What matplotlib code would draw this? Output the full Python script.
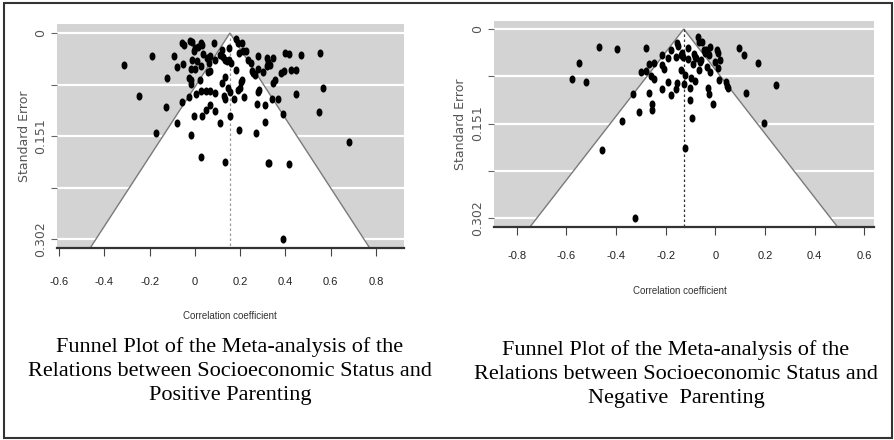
import numpy as np
import matplotlib
matplotlib.use('Agg')
import matplotlib.pyplot as plt
from matplotlib.path import Path
from matplotlib.transforms import Affine2D
from matplotlib.patches import Polygon, Rectangle

# ---- data ----
# positive parenting: correlation coefficient and standard error of each study
pos_r = [-0.313, -0.190, -0.246, -0.121, -0.127, -0.170, -0.090, -0.081, -0.055, -0.048,
         -0.053, -0.058, -0.077, -0.021, -0.011, 0.000, -0.003, 0.013, 0.029, 0.032,
         0.037, -0.011, 0.009, -0.015, 0.000, 0.025, -0.024, -0.015, -0.019, 0.022,
         -0.025, 0.006, 0.029, 0.051, 0.068, 0.088, 0.069, -0.003, 0.032, 0.048,
         0.090, -0.018, 0.025, 0.085, 0.054, 0.066, 0.063, 0.069, 0.059, 0.091,
         0.110, 0.121, 0.125, 0.134, 0.143, 0.152, 0.149, 0.160, 0.119, 0.131,
         0.128, 0.134, 0.146, 0.156, 0.171, 0.157, 0.110, 0.132, 0.180, 0.190,
         0.209, 0.197, 0.214, 0.225, 0.182, 0.206, 0.198, 0.192, 0.209, 0.215,
         0.193, 0.237, 0.246, 0.252, 0.259, 0.265, 0.281, 0.281, 0.302, 0.284,
         0.280, 0.275, 0.269, 0.317, 0.325, 0.331, 0.346, 0.320, 0.346, 0.353,
         0.343, 0.367, 0.312, 0.312, 0.322, 0.328, 0.381, 0.392, 0.400, 0.414,
         0.426, 0.446, 0.449, 0.468, 0.390, 0.418, 0.389, 0.552, 0.564, 0.549,
         0.679]
pos_se = [0.047, 0.034, 0.093, 0.066, 0.109, 0.147, 0.034, 0.050, 0.014, 0.018,
          0.046, 0.101, 0.132, 0.012, 0.013, 0.022, 0.026, 0.021, 0.014, 0.018,
          0.031, 0.039, 0.041, 0.053, 0.053, 0.049, 0.066, 0.069, 0.074, 0.069,
          0.094, 0.090, 0.085, 0.085, 0.085, 0.088, 0.105, 0.121, 0.121, 0.113,
          0.114, 0.149, 0.181, 0.015, 0.037, 0.034, 0.044, 0.056, 0.057, 0.039,
          0.032, 0.025, 0.035, 0.039, 0.041, 0.022, 0.039, 0.044, 0.073, 0.065,
          0.093, 0.097, 0.080, 0.086, 0.096, 0.122, 0.132, 0.189, 0.009, 0.014,
          0.014, 0.029, 0.026, 0.026, 0.054, 0.072, 0.080, 0.083, 0.069, 0.094,
          0.142, 0.039, 0.044, 0.056, 0.058, 0.062, 0.034, 0.053, 0.057, 0.083,
          0.087, 0.104, 0.147, 0.037, 0.042, 0.047, 0.037, 0.049, 0.073, 0.069,
          0.097, 0.096, 0.105, 0.130, 0.191, 0.190, 0.058, 0.056, 0.030, 0.031,
          0.054, 0.054, 0.090, 0.032, 0.119, 0.192, 0.302, 0.029, 0.080, 0.116,
          0.160]
pos_center = 0.155

# negative parenting
neg_r = [-0.576, -0.549, -0.522, -0.467, -0.395, -0.456, -0.376, -0.332, -0.309, -0.322,
         -0.298, -0.279, -0.279, -0.265, -0.246, -0.259, -0.246, -0.265, -0.255, -0.255,
         -0.215, -0.205, -0.215, -0.213, -0.189, -0.192, -0.180, -0.180, -0.160, -0.154,
         -0.152, -0.153, -0.157, -0.140, -0.133, -0.130, -0.137, -0.122, -0.125, -0.121,
         -0.111, -0.111, -0.102, -0.099, -0.101, -0.095, -0.091, -0.087, -0.082, -0.080,
         -0.079, -0.070, -0.066, -0.063, -0.066, -0.057, -0.052, -0.047, -0.043, -0.037,
         -0.034, -0.029, -0.021, -0.024, -0.020, -0.031, -0.024, -0.011, -0.003, 0.005,
         0.011, 0.017, 0.009, 0.014, 0.043, 0.047, 0.050, 0.094, 0.114, 0.122,
         0.172, 0.195, 0.244]
neg_se = [0.079, 0.054, 0.085, 0.029, 0.032, 0.193, 0.147, 0.104, 0.132, 0.302,
          0.069, 0.067, 0.031, 0.056, 0.054, 0.075, 0.079, 0.102, 0.120, 0.129,
          0.057, 0.064, 0.042, 0.095, 0.047, 0.085, 0.034, 0.106, 0.045, 0.022,
          0.027, 0.086, 0.095, 0.041, 0.039, 0.044, 0.065, 0.073, 0.087, 0.190,
          0.031, 0.048, 0.094, 0.078, 0.113, 0.142, 0.056, 0.040, 0.044, 0.083,
          0.047, 0.012, 0.020, 0.053, 0.065, 0.049, 0.021, 0.034, 0.038, 0.034,
          0.060, 0.038, 0.029, 0.041, 0.068, 0.094, 0.104, 0.120, 0.053, 0.034,
          0.039, 0.049, 0.063, 0.082, 0.085, 0.091, 0.094, 0.030, 0.041, 0.102,
          0.054, 0.150, 0.090]
neg_center = -0.127

se_ticks = [0, 0.0755, 0.151, 0.2265, 0.302]
se_labels = ['0', '', '0.151', '', '0.302']
pos_xticks = [-0.6, -0.4, -0.2, 0, 0.2, 0.4, 0.6, 0.8]
pos_xlabels = ['-0.6', '-0.4', '-0.2', '0', '0.2', '0.4', '0.6', '0.8']
neg_xticks = [-0.8, -0.6, -0.4, -0.2, 0, 0.2, 0.4, 0.6]
neg_xlabels = ['-0.8', '-0.6', '-0.4', '-0.2', '0', '0.2', '0.4', '0.6']

title_pos = 'Funnel Plot of the Meta-analysis of the\nRelations between Socioeconomic Status and\nPositive Parenting'
title_neg = 'Funnel Plot of the Meta-analysis of the\nRelations between Socioeconomic Status and\nNegative  Parenting'

W, H = 894, 440
narrow = 'Liberation Sans'

# small upright ellipse like the R plotting symbol in the scan
ell = Path.unit_circle().transformed(Affine2D().scale(0.68, 1.0))


def funnel(ax, r, se, center, xlim, ylim, xticks, xlabels, dotcol):
    ax.set_facecolor('#d3d3d3')
    for g in se_ticks:
        ax.axhline(g, color='white', lw=1.6, zorder=1)
    ymax = ylim[0]
    tri = Polygon([(center - 1.96 * ymax, ymax), (center, 0), (center + 1.96 * ymax, ymax)],
                  closed=True, facecolor='white', edgecolor='#7a7a7a', lw=1.0, zorder=2)
    ax.add_patch(tri)
    ax.plot([center, center], [0, ymax], ls=(0, (2, 2)), color=dotcol, lw=0.9, zorder=3)
    ax.plot(r, se, ls='none', marker=ell, ms=4.8, color='black', mec='black', zorder=4)
    ax.set_xlim(xlim)
    ax.set_ylim(ylim)
    for s in ['top', 'right', 'left']:
        ax.spines[s].set_visible(False)
    ax.spines['bottom'].set_color('#333333')
    ax.spines['bottom'].set_linewidth(1.6)
    ax.set_xticks(xticks)
    ax.set_xticklabels(xlabels, family=narrow, fontsize=8, color='#222222')
    ax.set_yticks(se_ticks)
    ax.set_yticklabels(se_labels, rotation=90, va='center', fontsize=9,
                       color='#555555', family='DejaVu Sans')
    ax.tick_params(axis='y', length=4, color='#666666', pad=3)
    ax.set_ylabel('Standard Error', fontsize=9, color='#555555', family='DejaVu Sans')


fig = plt.figure(figsize=(W / 100, H / 100), dpi=100)

# left panel
ax1 = fig.add_axes([57 / W, 1 - 248 / H, 347 / W, 224 / H])
funnel(ax1, pos_r, pos_se, pos_center, (-0.609, 0.924), (0.315, -0.0132),
       pos_xticks, pos_xlabels, '#9a9a9a')
ax1.tick_params(axis='x', length=6, color='#444444', pad=15)
ax1.yaxis.set_label_coords(-0.075, 0.5)

# right panel
ax2 = fig.add_axes([494 / W, 1 - 227 / H, 380 / W, 206 / H])
funnel(ax2, neg_r, neg_se, neg_center, (-0.891, 0.639), (0.316, -0.0128),
       neg_xticks, neg_xlabels, '#333333')
ax2.tick_params(axis='x', length=6, color='#444444', pad=11)
ax2.yaxis.set_label_coords(-0.072, 0.5)

# axis titles and captions
fig.text(230 / W, 1 - 316 / H, 'Correlation coefficient', family=narrow, fontsize=7,
         color='#333333', ha='center', va='center')
fig.text(680 / W, 1 - 291 / H, 'Correlation coefficient', family=narrow, fontsize=7,
         color='#333333', ha='center', va='center')
fig.text(230 / W, 1 - 337 / H, title_pos, family='Liberation Serif', fontsize=16,
         ha='center', va='top', linespacing=1.35)
fig.text(676 / W, 1 - 340 / H, title_neg, family='Liberation Serif', fontsize=16,
         ha='center', va='top', linespacing=1.35)

# frame round the whole figure
fig.add_artist(Rectangle((4 / W, 2 / H), 888 / W, 435 / H, transform=fig.transFigure,
                         fill=False, edgecolor='#333333', lw=1.5))

plt.savefig('out.png', dpi=100)
